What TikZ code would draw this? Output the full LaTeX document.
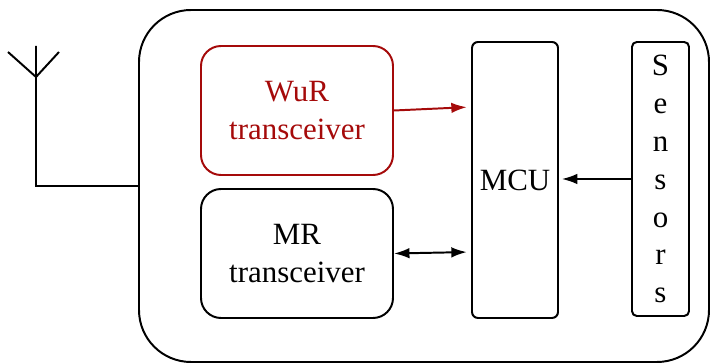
\documentclass[tikz,border=0pt]{standalone}
\usepackage{fontspec}
\setmainfont{Liberation Serif}
\usetikzlibrary{arrows.meta}

\definecolor{wurred}{RGB}{165,10,10}

\tikzset{
  unit/.style={draw,line width=1.4pt,rounded corners=0.5cm,
    minimum width=4.8cm,minimum height=3.225cm,align=center,
    font=\fontsize{22}{27}\selectfont},
  bar/.style={draw,line width=1.4pt,rounded corners=0.15cm,align=center,
    font=\fontsize{22}{27}\selectfont},
  tip/.tip={Latex[length=11pt,width=7.5pt]},
  link/.style={line width=1.4pt,-tip}
}

\begin{document}
\begin{tikzpicture}
  \useasboundingbox (0,0) rectangle (17.75,9.1);

  % node board
  \node[draw,line width=1.4pt,rounded corners=1.3cm,
        minimum width=14.25cm,minimum height=8.8cm] (board) at (10.6,4.45) {};

  \node[unit,draw=wurred,text=wurred] (wur) at (7.425,6.3375) {WuR\\transceiver};
  \node[unit] (mr) at (7.425,2.7625) {MR\\transceiver};
  \node[bar,minimum width=2.15cm,minimum height=6.9cm] (mcu) at (12.875,4.6) {MCU};
  \node[bar,rounded corners=0.12cm,minimum width=1.425cm,minimum height=6.85cm]
       (sens) at (16.5125,4.625) {S\\e\\n\\s\\o\\r\\s};

  % links to the MCU
  \draw[link,wurred,shorten >=3pt] (wur.east) -- ([yshift=1.825cm]mcu.west);
  \draw[link,tip-tip,shorten >=3pt]
       (mr.east) -- ([yshift=-1.8cm]mcu.west);
  \draw[link,shorten >=2pt] (sens.west) -- (mcu.east |- sens.west);

  % antenna
  \coordinate (feed) at (0.9,7.175);
  \draw[line width=1.4pt] (board.west) -| (feed);
  \draw[line width=1.4pt] (feed) -- (0.9,7.95)
        (0.2,7.8) -- (feed) -- (1.475,7.8);
\end{tikzpicture}
\end{document}
